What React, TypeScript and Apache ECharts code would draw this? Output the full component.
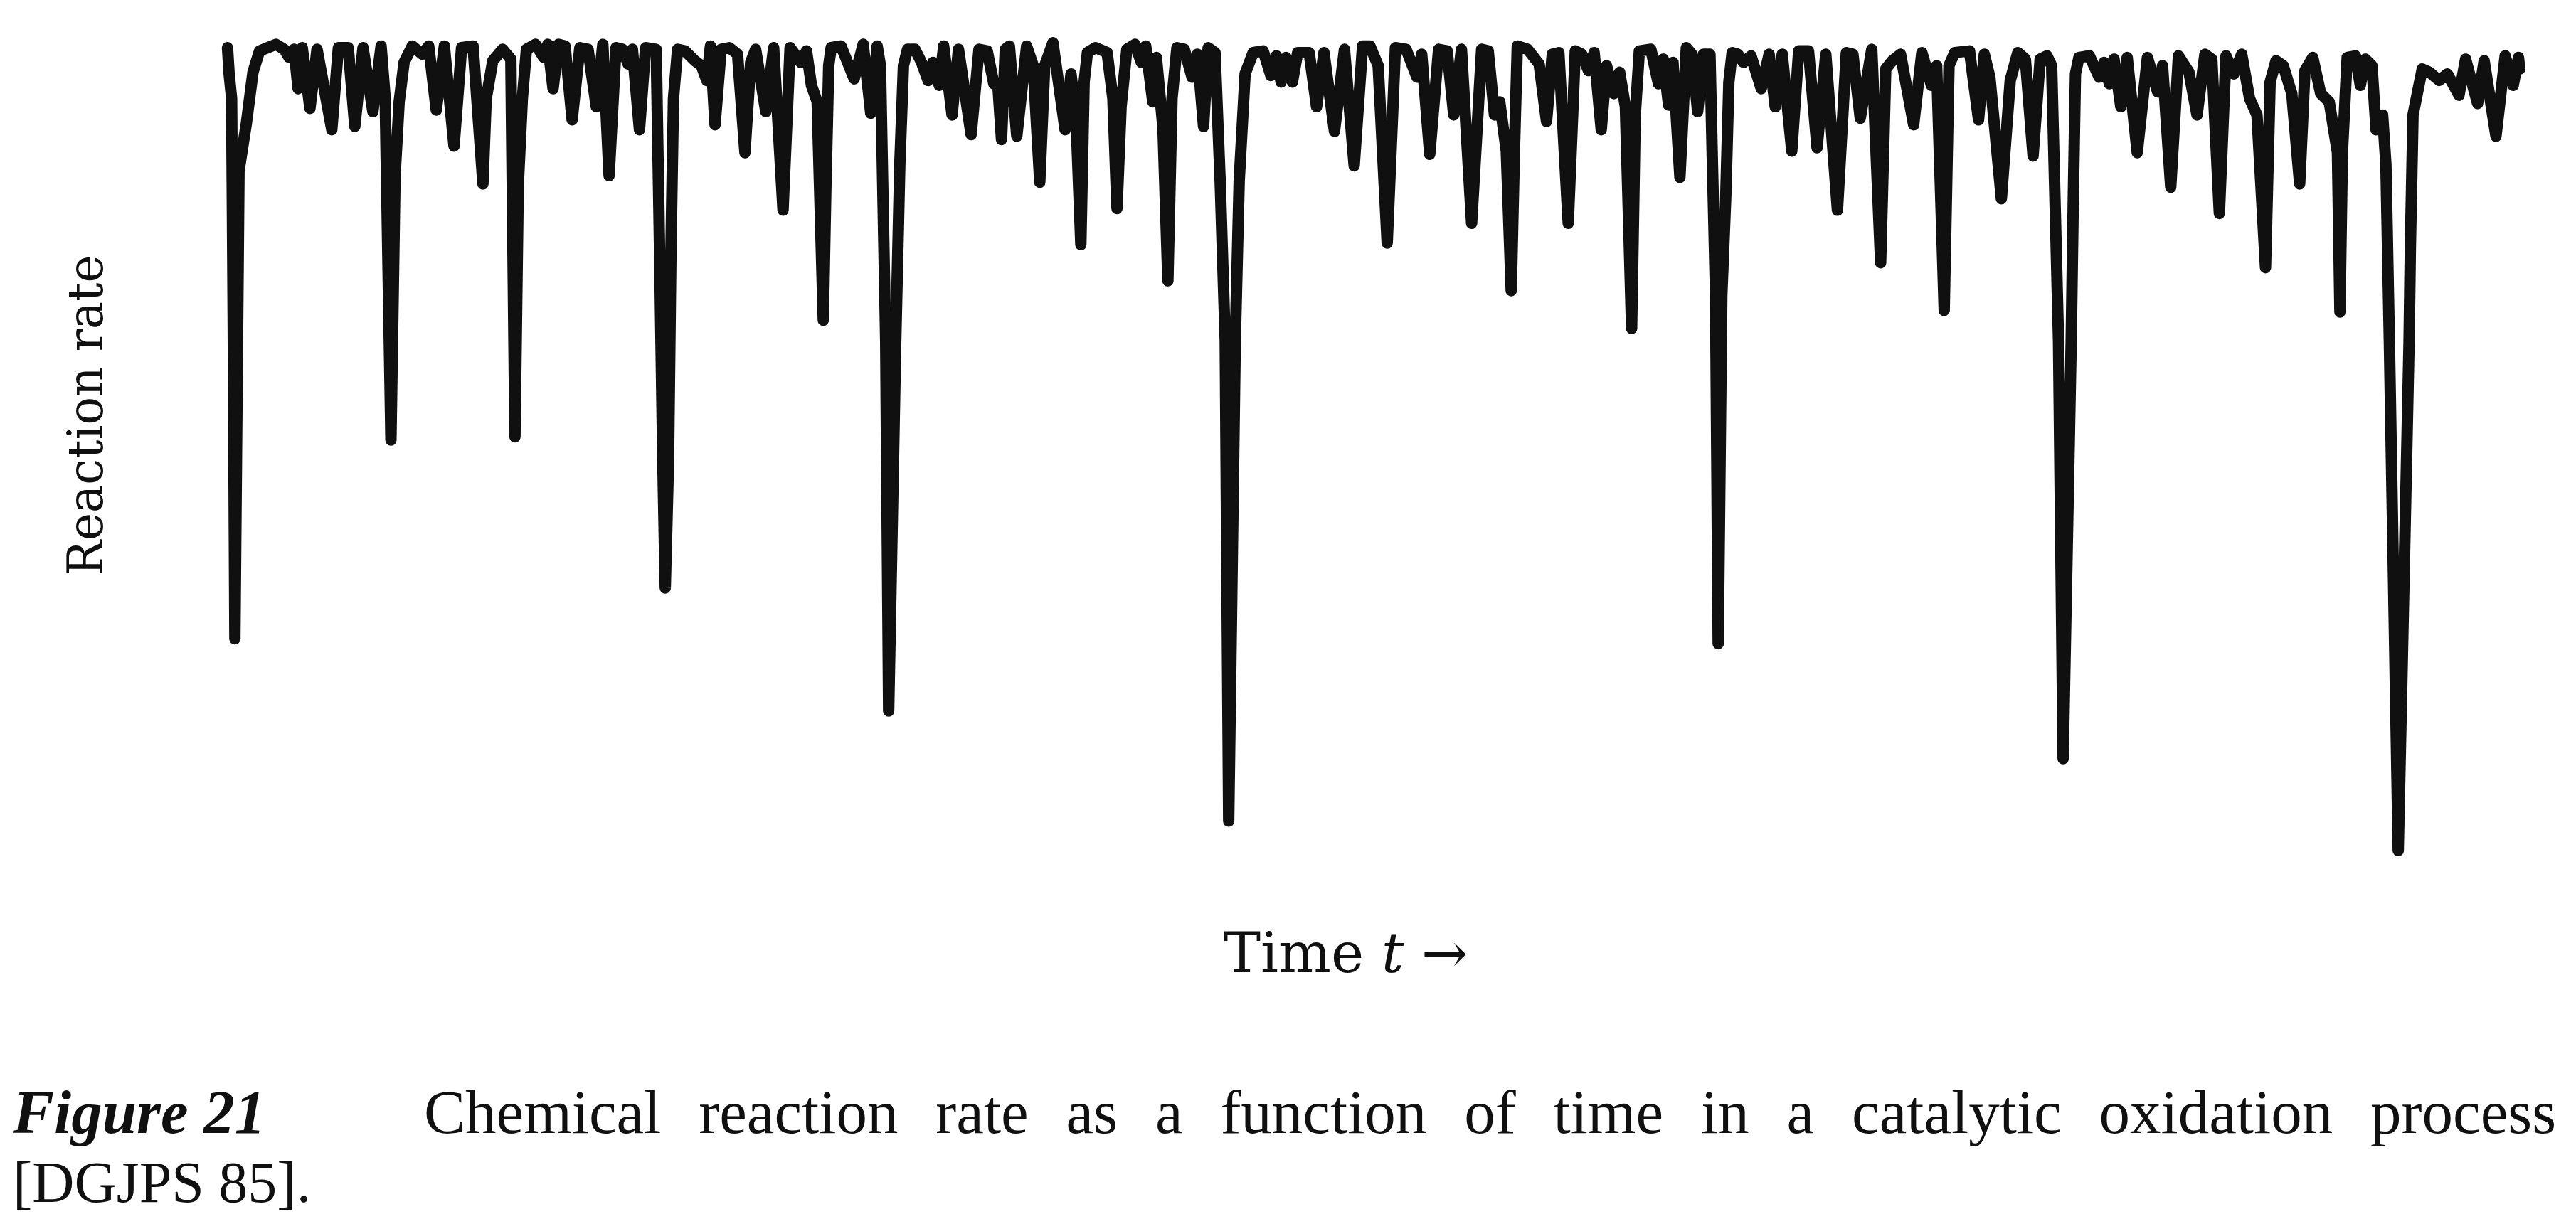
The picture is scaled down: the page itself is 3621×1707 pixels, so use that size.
import React, { useEffect, useRef } from "react";
import * as echarts from "echarts";

// Trace of the recorder pen: time (arbitrary units) and reaction rate (arbitrary units)
const time = [
  3.5, 4.5, 6, 7, 8, 10.5, 15, 19, 23, 28, 33, 38, 41, 44, 46.5, 49, 53.7, 58, 67, 71,
  77, 81, 86, 92, 97, 99.5, 103, 105.5, 108, 111, 116, 122, 126, 130.6, 135.5, 141.4, 146, 153, 159, 161,
  165, 171, 176, 178.5, 180.5, 183, 185.5, 191, 196, 198.5, 201.7, 205, 209, 213.3, 218, 223, 228, 232, 235.8, 240,
  244, 247.4, 250, 254.3, 258, 264.5, 266.5, 268.5, 270, 272, 273.5, 275, 277.5, 282, 288, 292, 295.3, 297.5, 300.3, 304,
  309, 314, 318.5, 322, 325, 331.2, 336, 341.7, 346, 352.5, 356, 359, 362.5, 366.2, 367.8, 369.5, 371, 377, 385, 390.5,
  395.1, 399, 401, 404.2, 406, 410.3, 412.8, 415, 417.5, 422, 426, 430, 433, 436.8, 439.5, 444.6, 448.5, 456.2, 461, 466,
  470, 472.5, 474.7, 477, 479.5, 484, 490, 494, 498, 501, 506, 513.4, 517, 520, 523, 525, 527, 532, 539, 542.5,
  545, 547.5, 551, 556, 559.8, 562.5, 566.8, 569, 573, 576, 578.5, 581.5, 586, 590.7, 594, 597.7, 600.5, 604.7, 607.8, 610.9,
  613, 617, 619.4, 623, 627.9, 634, 638.7, 642, 644.9, 648, 651.8, 655, 662, 666.5, 671, 677.4, 683.5, 689.4, 694.5, 699,
  704, 709.5, 714.5, 721, 727.6, 730.5, 735.4, 740.8, 746, 750, 754.7, 760.9, 767, 771, 774.8, 778, 782, 785, 787, 788.7,
  795, 802, 806.5, 810, 814, 819.7, 824, 828, 832, 835.5, 839.8, 843, 847.5, 851, 854.5, 858.3, 860.5, 863, 870, 874.6,
  877.5, 880.8, 883.5, 887.7, 891.6, 895, 898.5, 902, 906, 907.5, 909.4, 911, 913.2, 915.6, 917.5, 919.5, 923, 926.4, 931, 937.2,
  942, 945.7, 950, 955.8, 960, 966, 971.2, 976.5, 983.6, 989, 993, 997.5, 1004.5, 1009.9, 1013, 1017, 1022, 1030, 1035, 1040.8,
  1044, 1048.6, 1051.5, 1055, 1064, 1069.5, 1073, 1076.4, 1083.4, 1088.8, 1093.4, 1098, 1102.7, 1107, 1111.2, 1114, 1115.5, 1118.2, 1121, 1125.9,
  1127.2, 1128.5, 1130.6, 1137, 1142.9, 1146, 1149.1, 1152, 1156.1, 1160, 1166.1, 1172.3, 1178.5, 1181.5, 1186.5, 1191.2, 1197.6, 1202.5, 1207.3, 1211.5,
  1216.1, 1220.1, 1224.9, 1229.7, 1234.5, 1239, 1244.2, 1247, 1250.6, 1255, 1260.2, 1265, 1268.2, 1273, 1277.8, 1283, 1288, 1289.5, 1291, 1293.9,
  1299, 1301.9, 1305, 1309, 1311.5, 1315.5, 1317.5, 1319.6, 1325, 1331.6, 1332.4, 1334, 1339.6, 1344, 1350, 1354.9, 1362, 1366, 1373.3, 1377.3,
  1384.5, 1390.1, 1395, 1398.2, 1399,
];

const rate = [
  491, 475, 460, 320, 131, 416, 445, 476, 489, 491, 493, 490, 485, 490, 466, 491, 454, 490, 441, 491,
  491, 443, 491, 452, 492, 460, 252, 413, 458, 482, 492, 487, 492, 453, 492, 431, 491, 492, 408, 460,
  483, 490, 484, 254, 407, 460, 490, 493, 485, 493, 466, 493, 492, 447, 491, 490, 455, 493, 413, 491,
  490, 481, 490, 441, 491, 490, 370, 240, 162, 240, 370, 460, 490, 489, 483, 480, 471, 492, 444, 490,
  491, 487, 427, 482, 490, 452, 491, 392, 491, 482, 489, 468, 458, 325, 407, 480, 491, 492, 472, 493,
  451, 492, 480, 312, 87, 312, 420, 480, 490, 490, 482, 471, 482, 468, 492, 450, 490, 438, 490, 489,
  469, 468, 435, 490, 492, 437, 492, 480, 409, 480, 494, 441, 475, 450, 371, 470, 488, 491, 488, 460,
  393, 455, 490, 493, 482, 492, 458, 485, 442, 349, 460, 491, 490, 473, 487, 443, 491, 488, 410, 312,
  20, 312, 410, 475, 488, 489, 474, 486, 470, 485, 470, 488, 488, 455, 488, 440, 490, 419, 492, 492,
  480, 372, 491, 490, 473, 487, 426, 490, 489, 450, 490, 384, 490, 489, 450, 458, 428, 343, 430, 492,
  490, 481, 446, 487, 488, 384, 489, 487, 477, 488, 441, 480, 463, 476, 455, 320, 450, 489, 490, 469,
  484, 456, 482, 412, 491, 487, 452, 487, 487, 420, 340, 128, 340, 400, 470, 488, 487, 482, 486, 466,
  487, 455, 487, 428, 489, 489, 430, 487, 392, 488, 487, 448, 490, 360, 478, 483, 487, 444, 488, 468,
  480, 331, 480, 488, 489, 447, 487, 473, 399, 471, 488, 484, 425, 484, 486, 480, 420, 312, 58, 312,
  400, 475, 485, 486, 473, 482, 469, 484, 455, 485, 427, 485, 464, 480, 406, 486, 476, 450, 487, 484,
  390, 486, 475, 487, 460, 450, 357, 470, 483, 480, 463, 408, 477, 485, 463, 458, 427, 330, 427, 485,
  486, 468, 484, 480, 441, 450, 420, 312, 2, 312, 370, 450, 478, 476, 471, 475, 462, 484, 457, 483,
  437, 486, 468, 485, 478,
];

const timeRange = [0, 1400];
const rateRange = [0, 500];

const yAxisTitle = "Reaction rate";
const xAxisTitle = ["Time ", "t", " \u2192"];
const figureLabel = "Figure 21";
const captionWords = [
  "Chemical", "reaction", "rate", "as", "a", "function", "of", "time", "in", "a",
  "catalytic", "oxidation", "process",
];
const citation = "[DGJPS 85].";

const INK = "#101010";
const CAPTION_FONT = '"Liberation Serif", "DejaVu Serif", serif';
const LABEL_FONT = '"DejaVu Serif", "Liberation Serif", serif';

export default function App() {
  const ref = useRef<HTMLDivElement>(null);

  useEffect(() => {
    const el = ref.current;
    if (!el) return;
    const chart = echarts.init(el, null, { renderer: "svg" });

    const ctx = document.createElement("canvas").getContext("2d")!;
    const measure = (text: string, font: string) => {
      ctx.font = font;
      return ctx.measureText(text).width;
    };

    // caption (justified first line)
    const capFs = 87;
    const citeFs = 82;
    const capFont = `${capFs}px ${CAPTION_FONT}`;
    const line1Mid = 1593 - 0.34 * capFs;
    const line2Mid = 1690 - 0.34 * citeFs;
    const startX = 596;
    const endX = 3593;
    const widths = captionWords.map((w) => measure(w, capFont));
    const totalW = widths.reduce((a, b) => a + b, 0);
    const gap = (endX - startX - totalW) / (captionWords.length - 1);
    let cx = startX;
    const wordEls: any[] = captionWords.map((w, i) => {
      const e = {
        type: "text",
        x: cx,
        y: line1Mid,
        silent: true,
        style: {
          text: w,
          fill: INK,
          fontSize: capFs,
          lineHeight: capFs,
          fontFamily: CAPTION_FONT,
          textAlign: "left",
          textVerticalAlign: "middle",
        },
      };
      cx += widths[i] + gap;
      return e;
    });

    // x-axis title with italic t
    const tFs = 78;
    const tMid = 1367 - 0.345 * tFs;
    const fontA = `${tFs}px ${LABEL_FONT}`;
    const fontB = `italic ${tFs}px ${LABEL_FONT}`;
    const wA = measure(xAxisTitle[0], fontA);
    const wB = measure(xAxisTitle[1], fontB);
    const tx0 = 1720;
    const xTitleEls: any[] = [
      { text: xAxisTitle[0], x: tx0, italic: false },
      { text: xAxisTitle[1], x: tx0 + wA, italic: true },
      { text: xAxisTitle[2], x: tx0 + wA + wB, italic: false },
    ].map((p) => ({
      type: "text",
      x: p.x,
      y: tMid,
      silent: true,
      style: {
        text: p.text,
        fill: INK,
        fontSize: tFs,
        fontFamily: LABEL_FONT,
        fontStyle: p.italic ? "italic" : "normal",
        textAlign: "left",
        textVerticalAlign: "middle",
      },
    }));

    const option: any = {
      animation: false,
      backgroundColor: "#ffffff",
      grid: { left: 311.7, right: 76.7, top: 46.2, bottom: 506.3, containLabel: false },
      xAxis: { type: "value", min: timeRange[0], max: timeRange[1], show: false },
      yAxis: { type: "value", min: rateRange[0], max: rateRange[1], show: false },
      series: [
        {
          type: "line",
          data: time.map((t, i) => [t, rate[i]]),
          showSymbol: false,
          silent: true,
          clip: false,
          lineStyle: { width: 16, color: INK, join: "round", cap: "round" },
        },
      ],
      graphic: [
        {
          type: "text",
          x: 120,
          y: 584,
          rotation: Math.PI / 2,
          scaleX: 0.94,
          silent: true,
          style: {
            text: yAxisTitle,
            fill: INK,
            fontSize: 70,
            fontFamily: LABEL_FONT,
            textAlign: "center",
            textVerticalAlign: "middle",
          },
        },
        ...xTitleEls,
        {
          type: "text",
          x: 18,
          y: line1Mid,
          silent: true,
          style: {
            text: figureLabel,
            fill: INK,
            fontSize: capFs,
            lineHeight: capFs,
            fontFamily: CAPTION_FONT,
            fontWeight: "bold",
            fontStyle: "italic",
            textAlign: "left",
            textVerticalAlign: "middle",
          },
        },
        ...wordEls,
        {
          type: "text",
          x: 18,
          y: line2Mid,
          silent: true,
          style: {
            text: citation,
            fill: INK,
            fontSize: citeFs,
            lineHeight: citeFs,
            fontFamily: CAPTION_FONT,
            textAlign: "left",
            textVerticalAlign: "middle",
          },
        },
      ],
    };

    chart.setOption(option);
    return () => chart.dispose();
  }, []);

  return (
    <div
      ref={ref}
      style={{ position: "absolute", left: 0, top: 0, width: 3621, height: 1707 }}
    />
  );
}
